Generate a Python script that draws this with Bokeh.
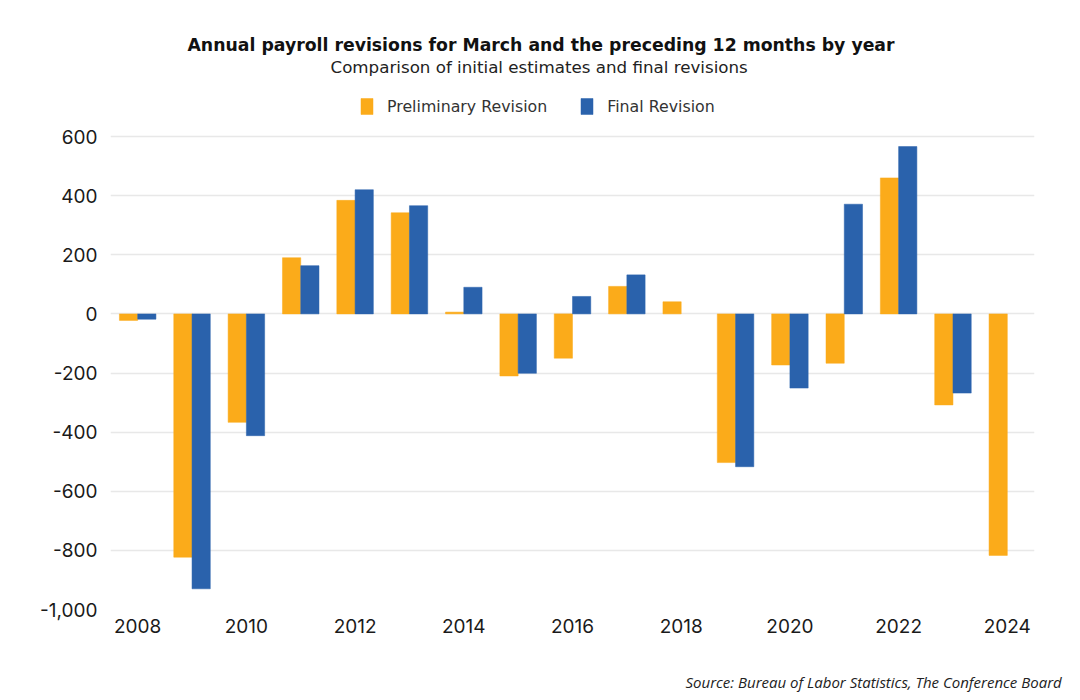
import math
from bokeh.plotting import figure
from bokeh.models import (ColumnDataSource, Legend, LegendItem, Title, FixedTicker,
                          NumeralTickFormatter, LinearAxis)
from bokeh.transform import dodge
from bokeh.embed import file_html
from bokeh.resources import INLINE

nan = float("nan")

years = list(range(2008, 2025))
preliminary = [-22, -823, -367, 190, 384, 342, 6, -210, -150, 93, 41, -503, -173, -167, 460, -308, -817]
final = [-18, -930, -412, 163, 420, 366, 90, -201, 59, 132, nan, -517, -251, 371, 566, -268, nan]
x_tick_years = [2008, 2010, 2012, 2014, 2016, 2018, 2020, 2022, 2024]
y_ticks = [-1000, -800, -600, -400, -200, 0, 200, 400, 600]

title_text = "Annual payroll revisions for March and the preceding 12 months by year"
subtitle_text = "Comparison of initial estimates and final revisions"
source_text = "Source: Bureau of Labor Statistics, The Conference Board"

ORANGE = "#FBAB1A"
BLUE = "#2A62AC"
TXT = "#1a1a1a"
HEAD_FONT = "DejaVu Sans"

src = ColumnDataSource(dict(year=years, pre=preliminary, fin=final))

# frame extends above the 600 gridline to hold the legend
p = figure(frame_width=924, frame_height=533, x_range=(2007.5, 2024.5), y_range=(-1000, 803),
           output_backend="svg", toolbar_location=None, title=None,
           min_border_left=110, min_border_right=40, min_border_bottom=0, min_border_top=76)

bw = 0.336
r1 = p.vbar(x=dodge("year", -bw / 2, range=p.x_range), top="pre", width=bw, source=src,
            fill_color=ORANGE, line_color=ORANGE, line_width=0.5)
r2 = p.vbar(x=dodge("year", bw / 2, range=p.x_range), top="fin", width=bw, source=src,
            fill_color=BLUE, line_color=BLUE, line_width=0.5)

p.outline_line_color = None
p.xgrid.grid_line_color = None
p.ygrid.grid_line_color = "#e8e8e8"
p.ygrid.grid_line_width = 1.5
p.yaxis.ticker = FixedTicker(ticks=y_ticks)
p.xaxis.ticker = FixedTicker(ticks=x_tick_years)
p.yaxis.formatter = NumeralTickFormatter(format="0,0")
for ax in (p.xaxis, p.yaxis):
    ax.axis_line_color = None
    ax.major_tick_line_color = None
    ax.minor_tick_line_color = None
    ax.major_tick_out = 0
    ax.minor_tick_out = 0
    ax.major_label_text_font = "Inter"
    ax.major_label_text_font_size = "19px"
    ax.major_label_text_color = TXT
p.yaxis.major_label_standoff = 13
p.xaxis.major_label_standoff = 9

# source note, drawn as the single label of a second bottom axis
source_x = 2021.54
src_axis = LinearAxis(ticker=FixedTicker(ticks=[source_x]),
                      major_label_overrides={source_x: source_text},
                      axis_line_color=None, major_tick_line_color=None, minor_tick_line_color=None,
                      major_tick_out=0, minor_tick_out=0, major_label_standoff=36,
                      major_label_text_font="Open Sans", major_label_text_font_size="15px",
                      major_label_text_font_style="italic", major_label_text_color="#222222")
p.add_layout(src_axis, "below")

legend = Legend(items=[LegendItem(label="Preliminary Revision", renderers=[r1]),
                       LegendItem(label="Final Revision", renderers=[r2])],
                orientation="horizontal", location=(249, 493),
                glyph_width=15, glyph_height=20, label_standoff=13, spacing=32,
                label_text_font=HEAD_FONT, label_text_font_size="15.8px", label_text_color="#333333",
                border_line_color=None, background_fill_alpha=0, margin=0, padding=4)
p.add_layout(legend, "center")
p.add_layout(Title(text=subtitle_text, align="left", text_font=HEAD_FONT, text_font_size="16.7px",
                   text_font_style="normal", text_color="#222222", standoff=0, offset=220), "above")
p.add_layout(Title(text=title_text, align="left", text_font=HEAD_FONT, text_font_size="17.3px",
                   text_font_style="bold", text_color="#111111", standoff=0, offset=77), "above")

open("out.html", "w").write(file_html(p, INLINE))
